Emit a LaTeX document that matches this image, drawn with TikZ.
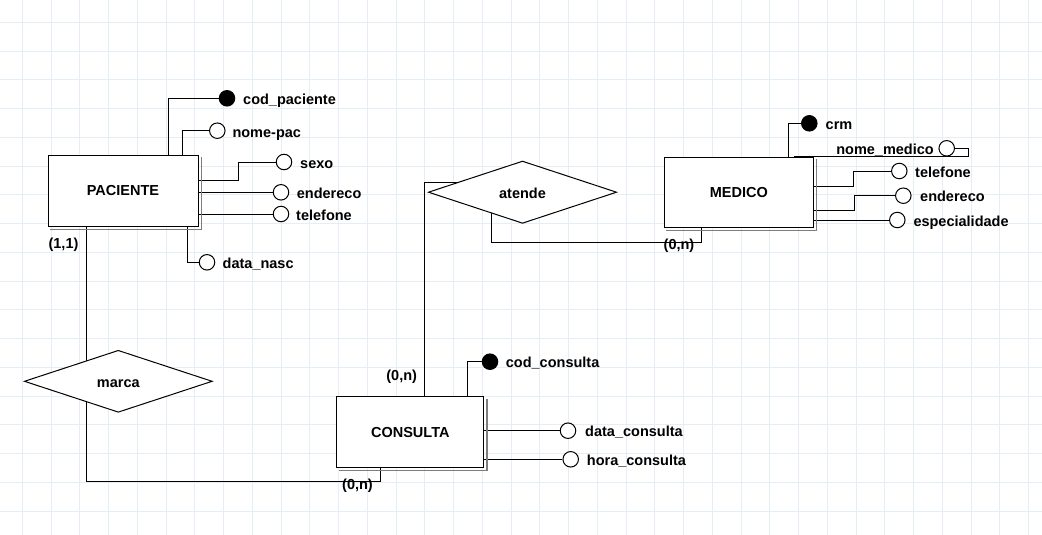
\documentclass[tikz,border=0pt]{standalone}
\usepackage{fontspec}
\setmainfont{Liberation Sans}
\usetikzlibrary{shapes.geometric}
\pgfdeclarelayer{gridlayer}
\pgfdeclarelayer{linelayer}
\pgfsetlayers{gridlayer,linelayer,main}
\definecolor{gridc}{RGB}{230,238,245}
\definecolor{shadowc}{RGB}{125,125,125}
\begin{document}
\begin{tikzpicture}[x=1pt,y=-1pt,
  every node/.style={font=\fontsize{14.5}{17}\selectfont\bfseries},
  entity/.style={draw, fill=white, line width=1pt, inner sep=0pt},
  rel/.style={diamond, draw, fill=white, line width=1pt, inner sep=0pt, aspect=3},
  attr/.style={circle, draw, fill=white, minimum size=15.5pt, inner sep=0pt, line width=1pt},
  keyattr/.style={attr, fill=black},
  lbl/.style={anchor=base west, inner sep=0pt},
  card/.style={inner sep=0pt},
  conn/.style={draw=black, line width=1pt},
  shadowline/.style={draw=shadowc, line width=1.2pt}
]
\useasboundingbox (0,0) rectangle (1042,535);
\begin{pgfonlayer}{gridlayer}
  \fill[white] (0,0) rectangle (1042,535);
  \foreach \i in {0,...,36} \draw[gridc, line width=1pt] ({22.3+28.75*\i},0) -- ++(0,535);
  \foreach \i in {0,...,18} \draw[gridc, line width=1pt] (0,{22.3+28.75*\i}) -- ++(1042,0);
\end{pgfonlayer}

% entities
\node[entity, minimum width=150pt, minimum height=71pt] (pac) at (123,190.5) {PACIENTE};
\node[entity, minimum width=149pt, minimum height=70.4pt] (med) at (738.8,192.5) {MEDICO};
\node[entity, minimum width=147.3pt, minimum height=71pt] (con) at (410.3,432.2) {CONSULTA};
\foreach \e in {pac,med,con}
  \draw[shadowline] ([shift={(2.6pt,-2.6pt)}]\e.north east) -- ([shift={(2.6pt,-2.6pt)}]\e.south east) -- ([shift={(2.6pt,-2.6pt)}]\e.south west);

% relationships
\node[rel, minimum width=188pt, minimum height=62pt] (mar) at (118.3,381.3) {\raisebox{-2pt}[\height][0pt]{marca}};
\node[rel, minimum width=188.4pt, minimum height=62.3pt] (ate) at (522.5,192.2) {\raisebox{-1.5pt}[\height][0pt]{atende}};

% PACIENTE attributes
\node[keyattr] (a1) at (227,98.3) {};
\node[lbl] (la1) at (243,104.5) {cod\_paciente};
\node[attr] (a2) at (217.3,130.7) {};
\node[lbl] (la2) at (232.3,137) {nome-pac};
\node[attr] (a3) at (284,162) {};
\node[lbl] (la3) at (300,168) {sexo};
\node[attr] (a4) at (281,192.3) {};
\node[lbl] (la4) at (296.7,198.5) {endereco};
\node[attr] (a5) at (281,214) {};
\node[lbl] (la5) at (296,220) {telefone};
\node[attr] (a6) at (207,262.3) {};
\node[lbl] (la6) at (222.5,268.5) {data\_nasc};

% MEDICO attributes
\node[keyattr] (m1) at (809.3,123.3) {};
\node[lbl] (lm1) at (825.5,129.5) {crm};
\node[attr] (m2) at (946.7,148.3) {};
\node[lbl, anchor=base east] (lm2) at (934,154.5) {nome\_medico};
\node[attr] (m3) at (899.3,171) {};
\node[lbl] (lm3) at (915,177) {telefone};
\node[attr] (m4) at (903.3,195.7) {};
\node[lbl] (lm4) at (920,201.7) {endereco};
\node[attr] (m5) at (897.3,220) {};
\node[lbl] (lm5) at (913.3,226) {especialidade};

% CONSULTA attributes
\node[keyattr] (c1) at (490,361.7) {};
\node[lbl] (lc1) at (505.7,367.7) {cod\_consulta};
\node[attr] (c2) at (568,430.7) {};
\node[lbl] (lc2) at (585,436.7) {data\_consulta};
\node[attr] (c3) at (570.7,459.3) {};
\node[lbl] (lc3) at (586.7,465.3) {hora\_consulta};

% cardinalities
\node[card] (k1) at (63.5,244.5) {(1,1)};
\node[card] (k2) at (401.7,376.5) {(0,n)};
\node[card] (k3) at (357.5,486) {(0,n)};
\node[card] (k4) at (679,246) {(0,n)};

\begin{pgfonlayer}{linelayer}
  % PACIENTE
  \draw[conn] ([xshift=45.3pt]pac.north) |- (a1);
  \draw[conn] ([xshift=59.3pt]pac.north) |- (a2);
  \draw[conn] ([yshift=9.8pt]pac.east) -- ++(39.7,0) |- (a3);
  \draw[conn] (a4 -| pac.east) -- (a4);
  \draw[conn] (a5 -| pac.east) -- (a5);
  \draw[conn] ([xshift=64.7pt]pac.south) |- (a6);
  % MEDICO
  \draw[conn] ([xshift=49.5pt]med.north) |- (m1);
  \draw[conn] ([xshift=55.2pt]med.north) -- ++(174.3,0) |- (m2);
  \draw[conn] ([yshift=6.5pt]med.east) -- ++(39.4,0) |- (m3);
  \draw[conn] ([yshift=-17.5pt]med.east) -- ++(41,0) |- (m4);
  \draw[conn] (m5 -| med.east) -- (m5);
  % CONSULTA
  \draw[conn] ([xshift=57pt]con.north) |- (c1);
  \draw[conn] (c2 -| con.east) -- (c2);
  \draw[conn] (c3 -| con.east) -- (c3);
  % relationships
  \draw[conn] ([xshift=-36.3pt]pac.south) -- ++(0,255) -| ([xshift=-30.3pt]con.south);
  \draw[conn] ([xshift=14pt]con.north) |- ([xshift=-40pt,yshift=9.4pt]ate.center);
  \draw[conn] ([xshift=-30.8pt]ate.center) -- ++(0,50) -| ([xshift=-37.1pt]med.south);
\end{pgfonlayer}
\end{tikzpicture}
\end{document}
